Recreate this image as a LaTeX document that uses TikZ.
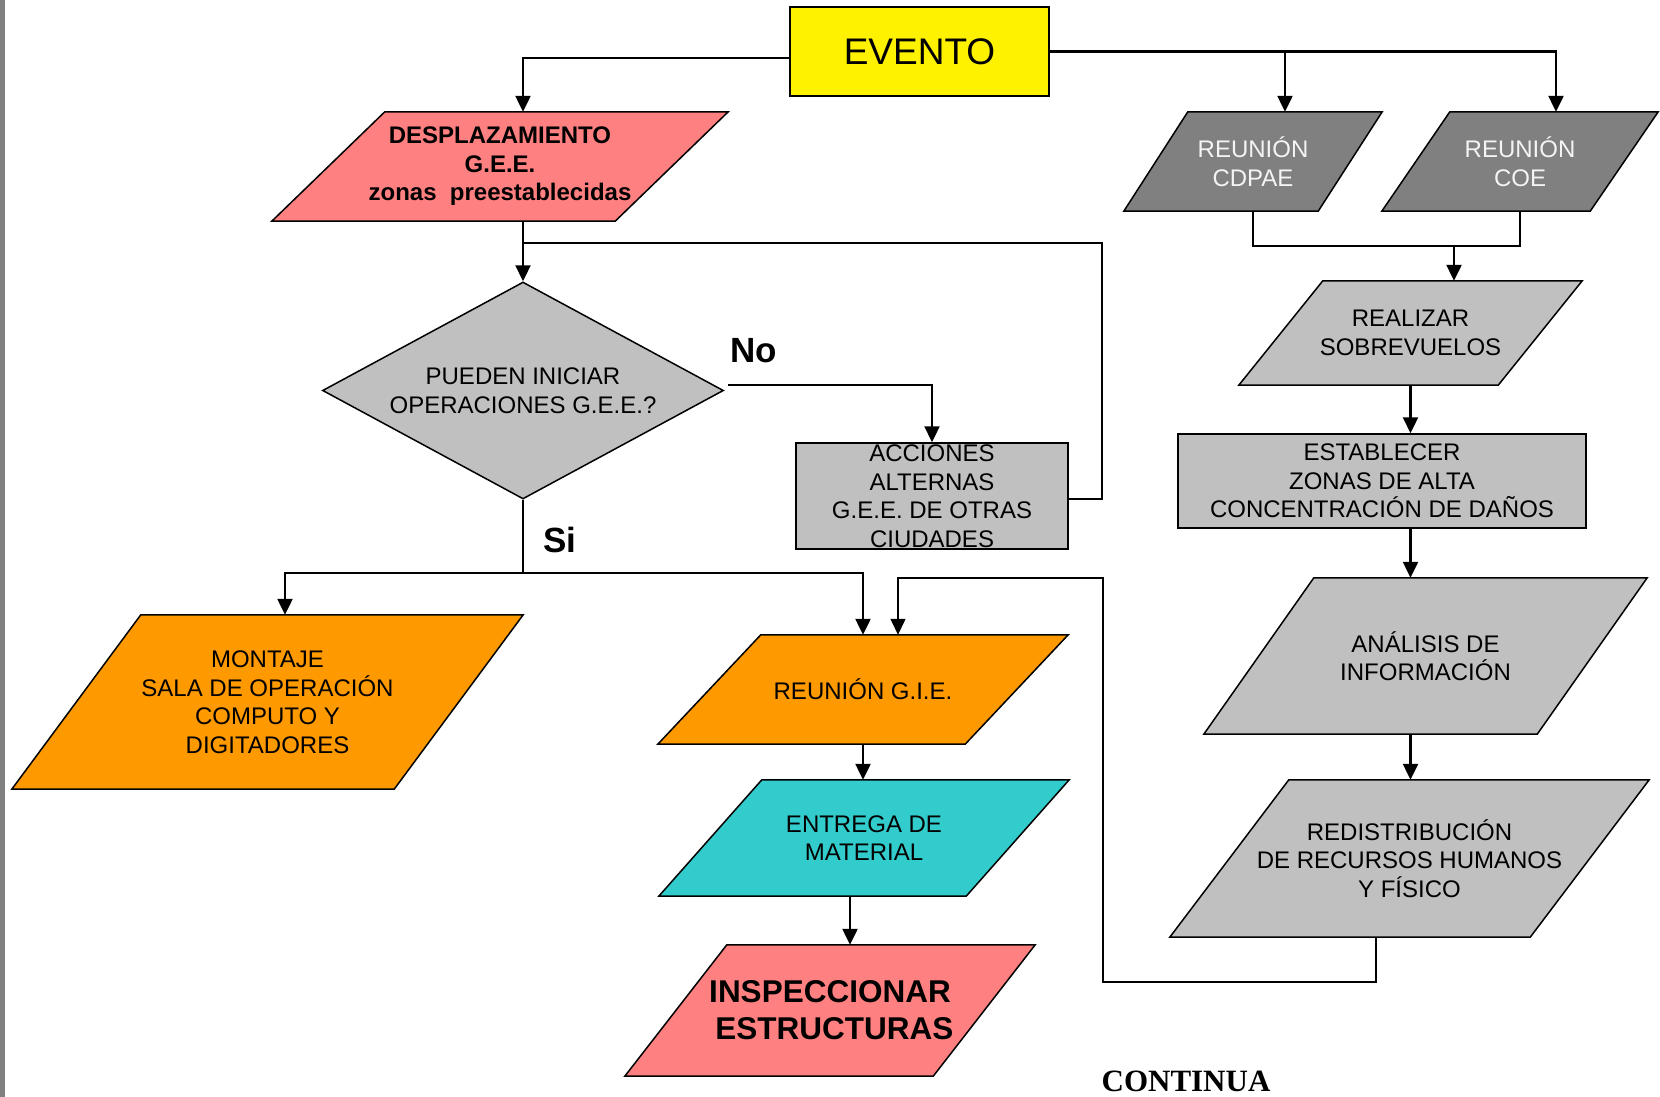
\documentclass[tikz,border=0pt]{standalone}
\usepackage{fontspec}
\setmainfont{Liberation Sans}
\newfontfamily\contfont{Liberation Serif}
\usetikzlibrary{shapes.geometric,arrows.meta,backgrounds}

\definecolor{salmon}{HTML}{FF8080}
\definecolor{orng}{HTML}{FF9900}
\definecolor{teal1}{HTML}{33CCCC}
\definecolor{dgray}{HTML}{808080}
\definecolor{lgray}{HTML}{C0C0C0}
\definecolor{paletext}{HTML}{F4F4F4}

\newcommand{\bodyfont}{\fontsize{24}{28.5}\selectfont}

\tikzset{
  txt/.style={inner sep=0pt, align=center, font=\bodyfont},
  rbox/.style={txt, draw, line width=1.5pt},
  link/.style={line width=2.3pt},
  thinlink/.style={line width=1.3pt},
  arr/.style={-{Triangle[length=16pt,width=15pt]}},
  edge/.style={line width=1.5pt, draw=black}
}

\begin{document}
\begin{tikzpicture}[x=1pt, y=-1pt]
        \useasboundingbox (0,0) rectangle (1660,1097);
        \fill[dgray] (0,0) rectangle (5,1097);

        % boxes
        \node[rbox, fill=yellow, minimum width=259pt, minimum height=89pt,
              font=\fontsize{37}{37}\selectfont] (evento) at (919.5,51.5) {EVENTO};
        \node[txt, minimum width=456pt, minimum height=109pt, font=\bodyfont\bfseries] (desp) at (500,166.5)
              {DESPLAZAMIENTO\\G.E.E.\\zonas\ \ preestablecidas};
        \node[txt, shape=diamond, shape aspect=2, draw, line width=1.5pt, fill=lgray,
              minimum width=401pt, minimum height=217pt] (dia) at (523,390.5)
              {PUEDEN INICIAR\\OPERACIONES G.E.E.?};
        \node[rbox, fill=lgray, minimum width=272pt, minimum height=106pt] (acc) at (932,496)
              {ACCIONES\\ALTERNAS\\G.E.E. DE OTRAS\\CIUDADES};
        \node[txt, minimum width=511pt, minimum height=174pt] (mont) at (267.5,702)
              {MONTAJE\\SALA DE OPERACIÓN\\COMPUTO Y\\DIGITADORES};
        \node[txt, minimum width=410pt, minimum height=109pt] (gie) at (863,689.5) {REUNIÓN G.I.E.};
        \node[txt, minimum width=410pt, minimum height=116pt] (ent) at (864,838) {ENTREGA DE\\MATERIAL};
        \node[txt, minimum width=410pt, minimum height=131pt, font=\fontsize{31.5}{37}\selectfont\bfseries] (insp) at (830,1010.5)
              {INSPECCIONAR\\\ ESTRUCTURAS};
        \node[txt, minimum width=258pt, minimum height=99pt, text=paletext] (cdpae) at (1253,161.5) {REUNIÓN\\CDPAE};
        \node[txt, minimum width=276pt, minimum height=99pt, text=paletext] (coe) at (1520,161.5) {REUNIÓN\\COE};
        \node[txt, minimum width=343pt, minimum height=104pt] (real) at (1410.5,333) {REALIZAR\\SOBREVUELOS};
        \node[rbox, fill=lgray, minimum width=408pt, minimum height=94pt] (est) at (1382,481)
              {ESTABLECER\\ZONAS DE ALTA\\CONCENTRACIÓN DE DAÑOS};
        \node[txt, minimum width=443pt, minimum height=156pt] (ana) at (1425.5,656) {ANÁLISIS DE\\INFORMACIÓN};
        \node[txt, minimum width=479pt, minimum height=157pt] (red) at (1409.5,858.5)
              {REDISTRIBUCIÓN\\DE RECURSOS HUMANOS\\Y FÍSICO};

        % parallelograms behind the texts
        \begin{pgfonlayer}{background}
                \foreach \n/\s/\c in {desp/113/salmon, mont/129/orng, gie/103/orng, ent/103/teal1,
                                      insp/102/salmon, cdpae/64/dgray, coe/68/dgray, real/84/lgray,
                                      ana/110/lgray, red/119/lgray} {
                        \filldraw[edge, fill=\c] ([xshift=\s pt]\n.north west) -- (\n.north east)
                                -- ([xshift=-\s pt]\n.south east) -- (\n.south west) -- cycle;
                    }
        \end{pgfonlayer}

        % labels
        \node[font=\fontsize{35}{35}\selectfont\bfseries] (nolbl) at (754,351) {No};
        \node[font=\fontsize{35}{35}\selectfont\bfseries] (silbl) at (560,540) {Si};
        \node[font=\contfont\bfseries\fontsize{31}{31}\selectfont] (cont) at (1186,1081) {CONTINUA};

        % connectors
        \coordinate (si) at (523,573);
        \coordinate (loopA) at (1102,243);
        \coordinate (loopB) at (1103,982);
        \coordinate (loopC) at (1103,578);
        \coordinate (mrg) at (1454,246);

        \draw[link, arr] ([yshift=-6.5pt]evento.west) -| (desp.north -| dia.north);
        \draw[link, arr] (desp.south -| dia.north) -- (dia.north);
        \draw[link] ([yshift=-3pt]acc.east) -| (loopA) -- (loopA -| dia.north);
        \draw[link, arr] ([xshift=4pt,yshift=5.5pt]dia.east) -| (acc.north);
        \draw[link] (dia.south) -- (si);
        \draw[link, arr] (si) -| ([xshift=17.5pt]mont.north);
        \draw[link, arr] (si) -| (gie.north);
        \draw[link, arr] (gie.south) -- (gie.south |- ent.north);
        \draw[link, arr] ([xshift=-14pt]ent.south) -- ([xshift=-14pt]ent.south |- insp.north);

        \draw[link, arr] (evento.east) -| ([xshift=36pt]coe.north);
        \draw[link, arr] ([xshift=32pt]cdpae.north |- evento.east) -- ([xshift=32pt]cdpae.north);
        \draw[link] (cdpae.south) |- (coe.south |- mrg) -- (coe.south);
        \draw[link, arr] (mrg) -- (mrg |- real.north);
        \draw[link, arr] (real.south) -- (real.south |- est.north);
        \draw[link, arr] (real.south |- est.south) -- (real.south |- ana.north);
        \draw[link, arr] (real.south |- ana.south) -- (real.south |- red.north);
        \draw[thinlink, arr] ([xshift=-33.5pt]red.south) |- (loopB) -- (loopC) -| ([xshift=35pt]gie.north);
    \end{tikzpicture}
\end{document}
